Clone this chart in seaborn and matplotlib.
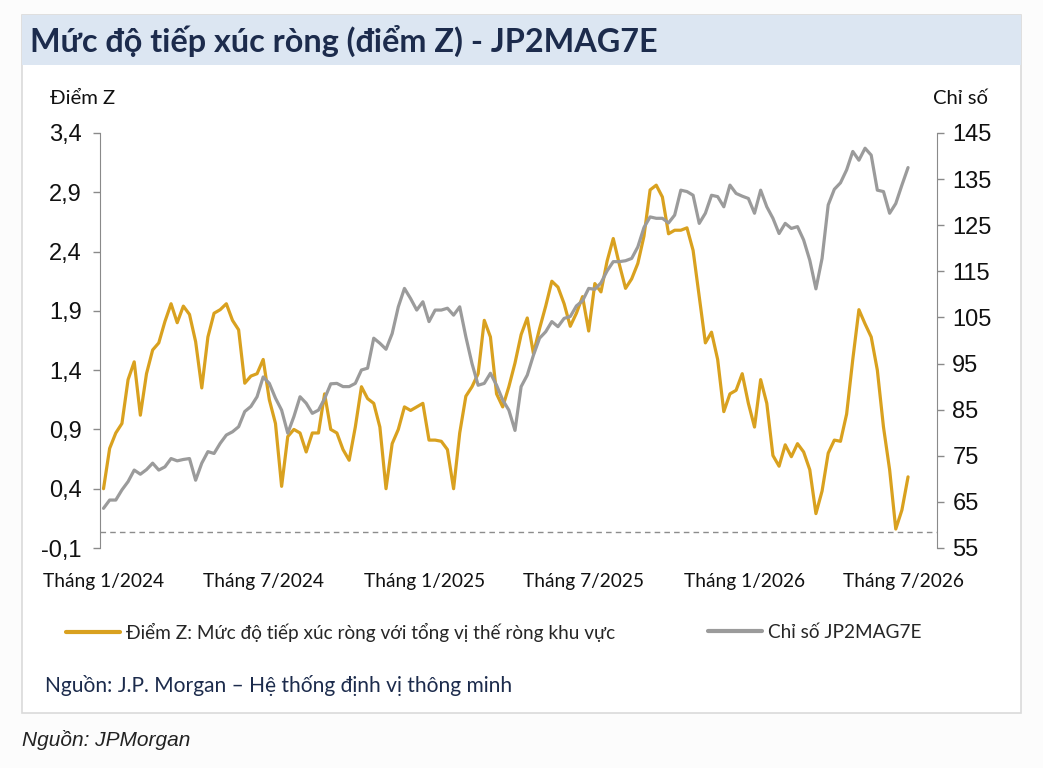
import numpy as np
import pandas as pd
import matplotlib
matplotlib.use('Agg')
import matplotlib.pyplot as plt
import seaborn as sns
from matplotlib.patches import Rectangle
from matplotlib.lines import Line2D
from matplotlib.ticker import FuncFormatter

# ---- data (weekly readings, from 2024-01-01) ----
start_date = '2024-01-01'
z_score = [
    0.40, 0.74, 0.87, 0.95, 1.32, 1.47, 1.02, 1.37, 1.57, 1.63,
    1.81, 1.96, 1.80, 1.94, 1.87, 1.64, 1.25, 1.68, 1.88, 1.91,
    1.96, 1.82, 1.74, 1.29, 1.35, 1.37, 1.49, 1.15, 0.95, 0.42,
    0.84, 0.90, 0.87, 0.71, 0.87, 0.87, 1.20, 0.90, 0.87, 0.73,
    0.64, 0.92, 1.26, 1.16, 1.12, 0.92, 0.40, 0.78, 0.90, 1.09,
    1.06, 1.09, 1.12, 0.81, 0.81, 0.80, 0.73, 0.40, 0.87, 1.18,
    1.26, 1.37, 1.82, 1.68, 1.20, 1.09, 1.26, 1.46, 1.70, 1.84,
    1.54, 1.75, 1.94, 2.15, 2.10, 1.96, 1.77, 1.88, 2.02, 1.73,
    2.13, 2.06, 2.32, 2.51, 2.29, 2.09, 2.17, 2.30, 2.53, 2.92,
    2.96, 2.86, 2.55, 2.58, 2.58, 2.60, 2.41, 2.02, 1.63, 1.72,
    1.49, 1.05, 1.20, 1.23, 1.37, 1.12, 0.92, 1.32, 1.12, 0.68,
    0.59, 0.77, 0.67, 0.78, 0.71, 0.56, 0.19, 0.38, 0.70, 0.81,
    0.80, 1.03, 1.49, 1.91, 1.79, 1.68, 1.40, 0.92, 0.56, 0.06,
    0.22, 0.50,
]
index_level = [
    63.6, 65.4, 65.4, 67.6, 69.4, 71.9, 71.0, 72.0, 73.4, 71.9,
    72.6, 74.4, 73.9, 74.2, 74.4, 69.7, 73.4, 75.9, 75.5, 77.7,
    79.5, 80.2, 81.3, 84.6, 85.7, 87.8, 92.1, 90.7, 87.5, 84.9,
    79.9, 83.5, 87.8, 86.4, 84.2, 84.9, 87.4, 90.6, 90.7, 90.0,
    90.0, 90.7, 93.6, 94.0, 100.5, 99.4, 98.1, 101.5, 107.3, 111.3,
    109.1, 106.6, 108.4, 104.1, 106.6, 106.6, 107.0, 105.5, 107.3, 100.8,
    95.0, 90.3, 90.7, 92.9, 90.3, 87.1, 84.9, 80.5, 90.0, 92.5,
    96.8, 100.5, 101.9, 104.1, 103.0, 104.8, 105.2, 107.5, 108.6, 111.3,
    111.1, 112.5, 115.1, 117.1, 117.1, 117.3, 117.8, 120.3, 124.5, 126.8,
    126.5, 126.5, 125.5, 127.2, 132.6, 132.3, 131.5, 125.4, 127.6, 131.5,
    131.2, 129.0, 133.7, 131.9, 131.3, 130.8, 127.6, 132.6, 129.0, 126.5,
    123.2, 125.4, 124.3, 124.7, 121.8, 117.4, 111.2, 117.8, 129.4, 132.8,
    134.2, 137.0, 141.0, 139.1, 141.7, 140.2, 132.6, 132.3, 127.6, 129.7,
    133.7, 137.5,
]
baseline_z = 0.035
left_ticks = [-0.1, 0.4, 0.9, 1.4, 1.9, 2.4, 2.9, 3.4]
right_ticks = [55, 65, 75, 85, 95, 105, 115, 125, 135, 145]
x_tick_dates = ['2024-01-01', '2024-07-01', '2025-01-01', '2025-07-01', '2026-01-01', '2026-07-01']
x_tick_labels = ['Tháng 1/2024', 'Tháng 7/2024', 'Tháng 1/2025', 'Tháng 7/2025', 'Tháng 1/2026', 'Tháng 7/2026']

title = 'Mức độ tiếp xúc ròng (điểm Z) - JP2MAG7E'
label_z = 'Điểm Z: Mức độ tiếp xúc ròng với tổng vị thế ròng khu vực'
label_idx = 'Chỉ số JP2MAG7E'

GOLD = '#D9A11F'
GRAY = '#9B9B9B'
NAVY = '#1C2B4C'
SPINE = '#8A8A8A'

sns.set_style('white')
plt.rcParams['font.family'] = ['Liberation Sans', 'DejaVu Sans']
COND = ['Lato', 'DejaVu Sans']

W, H = 1043, 768
fig = plt.figure(figsize=(W / 100, H / 100), dpi=100, facecolor='#fcfcfc')


def fx(px):
    return px / W


def fy(py):
    return 1 - py / H


# panel + title band
fig.add_artist(Rectangle((fx(22), fy(713)), fx(1021) - fx(22), fy(15) - fy(713),
                         transform=fig.transFigure, facecolor='white', edgecolor='#dadada', lw=1.2, zorder=-10))
fig.add_artist(Rectangle((fx(22), fy(65)), fx(1021) - fx(22), fy(15) - fy(65),
                         transform=fig.transFigure, facecolor='#DCE6F2', edgecolor='none', zorder=-9))

dates = pd.date_range(start_date, periods=len(z_score), freq='7D')
df = pd.DataFrame({'date': dates, 'z': z_score, 'idx': index_level})

ax = fig.add_axes([fx(100), fy(548), fx(937) - fx(100), fy(133) - fy(548)])
ax.patch.set_visible(False)
sns.lineplot(data=df, x='date', y='z', ax=ax, color=GOLD, lw=2.3, legend=False)
ax.axhline(baseline_z, color='#8c8c8c', ls=(0, (4, 3)), lw=1.0)

ax2 = ax.twinx()
sns.lineplot(data=df, x='date', y='idx', ax=ax2, color=GRAY, lw=2.3, legend=False)

ax.set_ylim(-0.1, 3.4)
ax2.set_ylim(55, 145)
ax.set_xlim(pd.Timestamp('2023-12-28'), pd.Timestamp('2026-08-08'))

ax.set_yticks(left_ticks)
ax.yaxis.set_major_formatter(FuncFormatter(lambda v, p: f'{v:.1f}'.replace('.', ',')))
ax2.set_yticks(right_ticks)
ax.set_xticks(pd.to_datetime(x_tick_dates))
ax.set_xticklabels(x_tick_labels, family=COND, fontsize=13.8)

for a in (ax, ax2):
    a.set_xlabel('')
    a.set_ylabel('')
    for s in a.spines.values():
        s.set_visible(False)
ax.spines['left'].set_visible(True)
ax.spines['left'].set_color(SPINE)
ax2.spines['right'].set_visible(True)
ax2.spines['right'].set_color(SPINE)

ax.tick_params(axis='y', direction='out', length=5, width=1, color=SPINE, labelsize=17, pad=8, labelcolor='#111111')
ax2.tick_params(axis='y', direction='out', length=5, width=1, color=SPINE, labelsize=17, pad=6, labelcolor='#111111')
ax.tick_params(axis='x', length=0, pad=18, labelcolor='#111111')

# texts
fig.text(fx(30), fy(41), title, fontsize=23.3, fontweight='bold', color=NAVY,
         family=COND, ha='left', va='center')
fig.text(fx(50), fy(99), 'Điểm Z', fontsize=14.6, family=COND, ha='left', va='center', color='#111111')
fig.text(fx(988), fy(99), 'Chỉ số', fontsize=14.6, family=COND, ha='right', va='center', color='#111111')

leg_prop = {'family': COND, 'size': 13.7}
fig.legend(handles=[Line2D([], [], color=GOLD, lw=3)], labels=[label_z], loc='center left',
           bbox_to_anchor=(fx(66), fy(632)), frameon=False, prop=leg_prop, handlelength=2.85,
           handletextpad=0.3, borderpad=0, borderaxespad=0)
fig.legend(handles=[Line2D([], [], color=GRAY, lw=3)], labels=[label_idx], loc='center left',
           bbox_to_anchor=(fx(708), fy(632)), frameon=False, prop=leg_prop, handlelength=2.85,
           handletextpad=0.3, borderpad=0, borderaxespad=0)

fig.text(fx(45), fy(686), 'Nguồn: J.P. Morgan – Hệ thống định vị thông minh', fontsize=15.1, color=NAVY,
         family=COND, ha='left', va='center')
fig.text(fx(22), fy(740), 'Nguồn: JPMorgan', fontsize=15, style='italic', color='#222222',
         ha='left', va='center')

fig.savefig('out.png', dpi=100, facecolor=fig.get_facecolor())
